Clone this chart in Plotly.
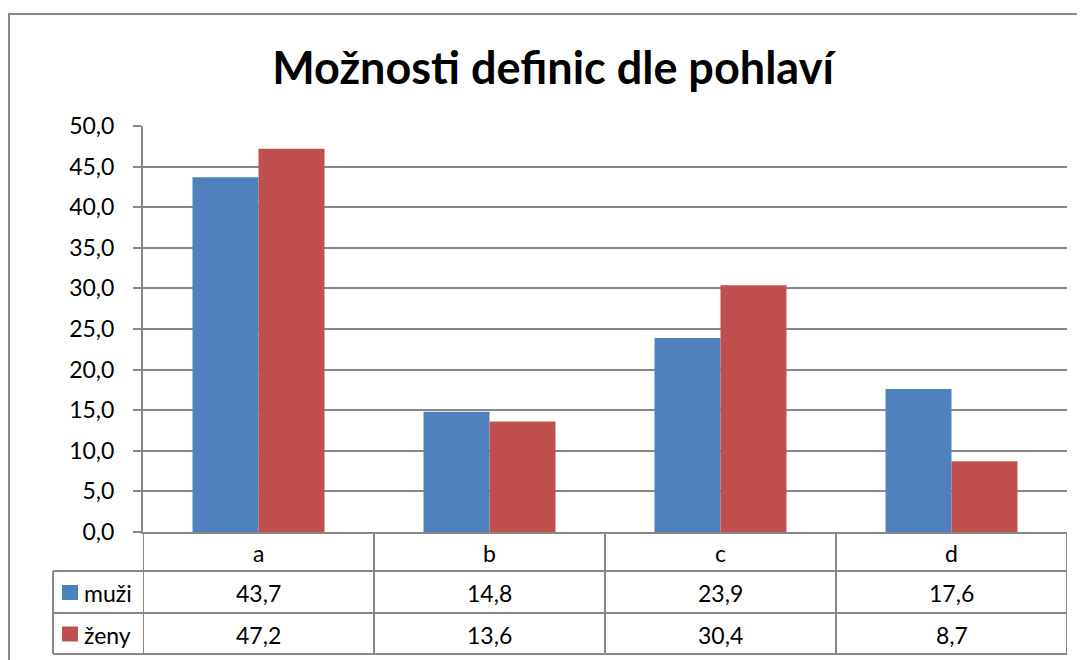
import plotly.graph_objects as go

categories = ["a", "b", "c", "d"]
series_names = ["muži", "ženy"]
muzi = [43.7, 14.8, 23.9, 17.6]
zeny = [47.2, 13.6, 30.4, 8.7]
colors = ["#4F81BD", "#C0504D"]
title = "Možnosti definic dle pohlaví"

FONT = "Lato"
GRAY = "#888888"
OFF = 8  # page body margin
W, H = 1085 - OFF, 660 - OFF
L, R, T, B = 143 - OFF, 1085 - 1067, 126 - OFF, 660 - 532
PW, PH = W - L - R, H - T - B

def py(pix):  # pixel offset below plot bottom -> paper y
    return -pix / PH

def px(pix):  # absolute page pixel x -> paper x
    return (pix - OFF - L) / PW

xs = list(range(len(categories)))
fig = go.Figure()
for name, vals, col in zip(series_names, [muzi, zeny], colors):
    fig.add_bar(x=xs, y=vals, name=name, marker=dict(color=col, line=dict(width=0)))

shapes = []
annotations = []
line = dict(color=GRAY, width=2)
row_tops = [0, 39, 81, 122]  # header, muži, ženy, bottom (px below axis)
n = len(categories)
tf = dict(family=FONT, size=23, color="black")
for yy in row_tops[1:]:
    shapes.append(dict(type="line", xref="paper", yref="paper", x0=px(53), x1=1.0,
                       y0=py(yy), y1=py(yy), line=line))
for k in range(n + 1):
    shapes.append(dict(type="line", xref="x", yref="paper", x0=k - 0.5, x1=k - 0.5,
                       y0=0, y1=py(row_tops[-1]), line=line))
shapes.append(dict(type="line", xref="paper", yref="paper", x0=px(53), x1=px(53),
                   y0=py(row_tops[1]), y1=py(row_tops[-1]), line=line))
for k, c in enumerate(categories):
    annotations.append(dict(x=k, y=py((row_tops[0] + row_tops[1]) / 2 + 1), xref="x", yref="paper",
                            xanchor="center", yanchor="middle",
                            text=c, showarrow=False, font=tf))
for r, (name, vals, col) in enumerate(zip(series_names, [muzi, zeny], colors)):
    ymid = (row_tops[r + 1] + row_tops[r + 2]) / 2
    for k, v in enumerate(vals):
        annotations.append(dict(x=k, y=py(ymid + 1), xref="x", yref="paper",
                                xanchor="center", yanchor="middle",
                                text=f"{v:.1f}".replace(".", ","), showarrow=False, font=tf))
    shapes.append(dict(type="rect", xref="paper", yref="paper", x0=px(62), x1=px(78),
                       y0=py(ymid + 8), y1=py(ymid - 7), fillcolor=col, line=dict(width=0)))
    annotations.append(dict(x=px(82), y=py(ymid + 1), xref="paper", yref="paper",
                            xanchor="left", yanchor="middle",
                            text=name, showarrow=False, font=tf))
# outer chart border
shapes.append(dict(type="rect", xref="paper", yref="paper", x0=px(9), x1=px(1110),
                   y0=py(200), y1=(532 - 14) / PH, line=line, layer="below"))

fig.update_layout(
    width=W, height=H,
    margin=dict(l=L, r=R, t=T, b=B),
    paper_bgcolor="white", plot_bgcolor="white",
    separators=", ",
    barmode="group", bargap=99 / 231, bargroupgap=0,
    showlegend=False,
    title=dict(text=f"<b>{title}</b>", x=(553 - OFF) / W, xanchor="center", xref="container",
               y=1 - (68 - OFF) / H, yanchor="middle", yref="container",
               font=dict(family=FONT, size=45, color="black")),
    xaxis=dict(range=[-0.5, n - 0.5], showticklabels=False, showgrid=False,
               showline=True, linecolor=GRAY, linewidth=2, zeroline=False, ticks=""),
    yaxis=dict(range=[0, 50], dtick=5, tickformat=".1f", showgrid=True, gridcolor=GRAY,
               gridwidth=2, showline=True, linecolor=GRAY, linewidth=2, zeroline=False,
               ticks="outside", ticklen=8, tickcolor=GRAY, tickwidth=2,
               ticklabelstandoff=14, tickfont=tf),
    shapes=shapes, annotations=annotations,
)
fig.write_html("out.html")
